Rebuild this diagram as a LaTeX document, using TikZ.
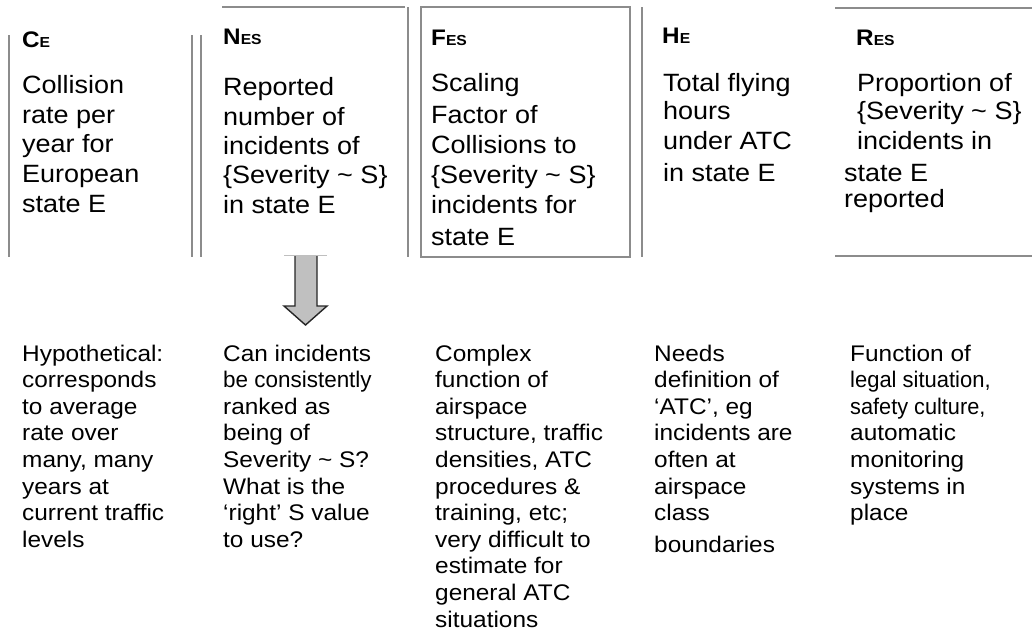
\documentclass[tikz,border=0pt]{standalone}
\usepackage{fontspec}
\setmainfont{Liberation Sans}[FakeStretch=1.08]
\definecolor{linegray}{HTML}{8C8C8C}
\definecolor{arrowgray}{HTML}{C0C0C0}
\tikzset{
  rule/.style={draw=linegray, line width=1.3pt},
  body/.style={anchor=base west, inner sep=0pt, font=\fontsize{25}{29}\selectfont, text=black},
  note/.style={anchor=base west, inner sep=0pt, font=\fontsize{22.6}{27}\selectfont, text=black},
  ttl/.style={anchor=base west, inner sep=0pt, font=\bfseries\fontsize{22.5}{26}\selectfont, text=black},
  arrowfill/.style={fill=arrowgray},
  arrowline/.style={draw=black!85, line width=1.4pt, line join=miter},
}
\newcommand\smallsub[1]{{\fontsize{14.5}{16}\selectfont #1}}
\newcommand\condense[2]{\scalebox{#1}[1]{#2}}
\begin{document}
\begin{tikzpicture}[x=1pt,y=-1pt]
\useasboundingbox (0,0) rectangle (1032,632);
% frame lines
\draw[rule] (9,35) -- (9,257);
\draw[rule] (192,35) -- (192,257);
\draw[rule] (201,35) -- (201,257);
\draw[rule] (222,7) -- (405,7);
\draw[rule] (408,7) -- (408,257);
\draw[rule] (421,7) rectangle (630,257);
\draw[rule] (642,7) -- (642,257);
\draw[rule] (835,8) -- (1032,8);
\draw[rule] (835,256) -- (1032,256);
% titles
\node[ttl] (tC) at (22,47) {C\smallsub{E}};
\node[ttl] (tN) at (223,44) {N\smallsub{ES}};
\node[ttl] (tF) at (431,45) {F\smallsub{ES}};
\node[ttl] (tH) at (662,43) {H\smallsub{E}};
\node[ttl] (tR) at (856,45) {R\smallsub{ES}};
% top bodies
\foreach \y/\t [count=\i] in {93/Collision, 123/rate per, 152/year for, 182/European, 212/state E}
  \node[body] (c\i) at (22,\y) {\t};
\foreach \y/\t [count=\i] in {95/Reported, 125/number of, 154/incidents of, 183/{\{Severity \textasciitilde{} S\}}, 213/in state E}
  \node[body] (n\i) at (223,\y) {\t};
\foreach \y/\t [count=\i] in {91/Scaling, 123/Factor of, 153/Collisions to, 183/{\{Severity \textasciitilde{} S\}}, 213/incidents for, 245/state E}
  \node[body] (f\i) at (431,\y) {\t};
\foreach \y/\t [count=\i] in {91/Total flying, 119/hours, 149/under ATC, 181/in state E}
  \node[body] (h\i) at (663,\y) {\t};
\foreach \y/\t [count=\i] in {91/Proportion of, 119/{\{Severity \textasciitilde{} S\}}, 149/incidents in}
  \node[body] (r\i) at (857,\y) {\t};
\node[body] (r4) at (844,181) {state E};
\node[body] (r5) at (844,207) {reported};
% block arrow
\coordinate (aL) at (295,255);
\coordinate (aR) at (317,255);
\coordinate (aTip) at (305.5,325);
\fill[arrowfill] (aL) -- (aR) -- (317,306) -- (327,306) -- (aTip) -- (284,306) -- (295,306) -- cycle;
\draw[arrowline] (aL) -- (295,306) -- (284,306) -- (aTip) -- (327,306) -- (317,306) -- (aR);
\draw[draw=black!25, line width=0.8pt] (284,255) -- (327,255);
% bottom notes
\foreach \t [count=\i] in {Hypothetical:, corresponds, to average, rate over, {many, many}, years at, current traffic, levels}
  \node[note] (cn\i) at (22,{361+(\i-1)*26.6}) {\t};
\foreach \t [count=\i] in {Can incidents, {\condense{0.92}{be consistently}}, ranked as, being of, Severity \textasciitilde{} S?, What is the, ‘right’ S value, to use?}
  \node[note] (nn\i) at (223,{361+(\i-1)*26.6}) {\t};
\foreach \t [count=\i] in {Complex, function of, airspace, {structure, traffic}, {densities, ATC}, procedures \&, {training, etc;}, very difficult to, estimate for, general ATC, situations}
  \node[note] (fn\i) at (435,{361+(\i-1)*26.6}) {\t};
\foreach \t [count=\i] in {Needs, definition of, {‘ATC’, eg}, incidents are, often at, airspace, class}
  \node[note] (hn\i) at (654,{361+(\i-1)*26.6}) {\t};
\node[note] (hn8) at (654,552) {boundaries};
\foreach \t [count=\i] in {Function of, {\condense{0.9}{legal situation,}}, {\condense{0.89}{safety culture,}}, automatic, monitoring, systems in, place}
  \node[note] (rn\i) at (850,{361+(\i-1)*26.6}) {\t};
\end{tikzpicture}
\end{document}
